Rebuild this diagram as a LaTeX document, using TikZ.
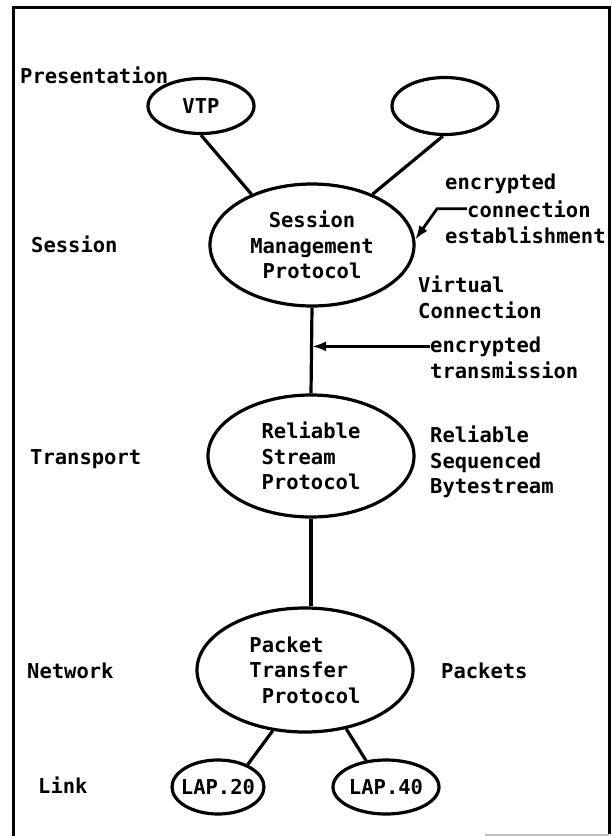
\documentclass[tikz,border=0pt]{standalone}
\usepackage{fontspec}
\newfontfamily\typer{DejaVu Sans Mono}
\usetikzlibrary{shapes.geometric,arrows.meta}
\begin{document}
\begin{tikzpicture}[x=1pt,y=-1pt,
  every node/.style={font=\typer\bfseries\fontsize{20.5}{25.5}\selectfont},
  ell/.style={draw, ellipse, line width=3.2pt, inner sep=0pt},
  lbl/.style={anchor=base west, inner sep=0pt},
  con/.style={line width=3.2pt},
  arr/.style={line width=2.8pt, -{Latex[length=14pt,width=10pt]}}]
\useasboundingbox (0,0) rectangle (612,836);
% frame
\draw[line width=3pt] (13,836) -- (13,7) -- (609,7) -- (609,834);
\draw[black!25, line width=1.5pt] (485,835) -- (609,835);
% protocol ellipses
\node[ell, minimum width=106pt, minimum height=55pt] (vtp) at (201,106) {VTP};
\node[ell, minimum width=106pt, minimum height=57pt] (pres2) at (445,106) {};
\node[ell, minimum width=204pt, minimum height=122pt, align=center] (smp) at (312,245) {Session\\Management\\Protocol};
\node[ell, minimum width=206pt, minimum height=122pt, align=left] (rsp) at (311,456) {Reliable\\Stream\\Protocol};
\node[ell, minimum width=216pt, minimum height=124pt, align=left] (ptp) at (305,670) {Packet\\Transfer\\\phantom{x}Protocol};
\node[ell, minimum width=92pt, minimum height=54pt, label=center:LAP.20] (lap20) at (218,787) {};
\node[ell, minimum width=106pt, minimum height=54pt, label=center:LAP.40] (lap40) at (386,787) {};
% layer labels
\node[lbl] (lpres) at (20,83) {Presentation};
\node[lbl] (lsess) at (31,252) {Session};
\node[lbl] (ltrans) at (30,464) {Transport};
\node[lbl] (lnet) at (27,678) {Network};
\node[lbl] (llink) at (38,793) {Link};
% right annotations
\node[lbl] (enc1) at (445,189) {encrypted};
\node[lbl] (conn) at (467,217) {connection};
\node[lbl] (estab) at (445,243) {establishment};
\node[lbl] (virt) at (418,292) {Virtual};
\node[lbl] (vconn) at (418,318) {Connection};
\node[lbl] (enc2) at (430,352) {encrypted};
\node[lbl] (trans) at (430,378) {transmission};
\node[lbl] (rel) at (430,442) {Reliable};
\node[lbl] (seq) at (430,468) {Sequenced};
\node[lbl] (byte) at (430,493) {Bytestream};
\node[lbl] (pkts) at (441,678) {Packets};
% connectors
\draw[con] (vtp.south) -- (smp.140);
\draw[con] (pres2.266) -- (smp.40);
\draw[con] (smp.south) -- (rsp.north);
\draw[con] (rsp.south) -- (rsp.south |- ptp.north);
\draw[con] (ptp.242) -- (lap20.37);
\draw[con] (ptp.305) -- (lap40.127);
% arrows
\draw[arr] (conn.west) -- ++(-30,0) -- (smp.3);
\draw[arr] (enc2.west) -- (smp.south |- enc2.west);
\end{tikzpicture}
\end{document}
